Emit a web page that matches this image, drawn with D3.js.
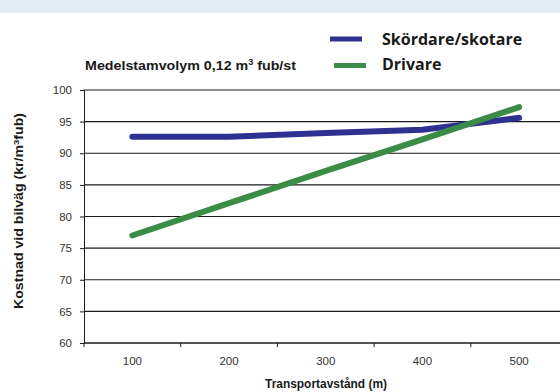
<!DOCTYPE html>
<html>
<head>
<meta charset="utf-8">
<script src="https://cdn.jsdelivr.net/npm/d3@7"></script>
<style>
  html, body { margin: 0; padding: 0; background: #fff; }
  svg { display: block; }
</style>
</head>
<body>
<svg id="chart" width="560" height="392"></svg>
<script>
// Transport distance categories (m)
const distances = ["100", "200", "300", "400", "500"];
// Cost at roadside (kr/m³fub) for each method
const skordareSkotare = [92.6, 92.6, 93.2, 93.7, 95.6];
const drivare = [77.0, 82.1, 87.2, 92.2, 97.3];
const yTicks = [60, 65, 70, 75, 80, 85, 90, 95, 100];
const seriesNames = ["Skördare/skotare", "Drivare"];
const seriesColors = ["#2e3192", "#3a8c47"];

const svg = d3.select("#chart");

// header band
svg.append("rect").attr("x", 0).attr("y", 0).attr("width", 560).attr("height", 13)
  .attr("fill", "#e3ebf3");

const plotLeft = 84, plotRight = 567.5, plotTop = 90, plotBottom = 343;

const x = d3.scaleBand().domain(distances).range([plotLeft, plotRight]).padding(0);
const y = d3.scaleLinear().domain([60, 100]).range([plotBottom, plotTop]);

// horizontal gridlines
svg.append("g").selectAll("line").data(yTicks).join("line")
  .attr("x1", plotLeft).attr("x2", 560)
  .attr("y1", d => y(d)).attr("y2", d => y(d))
  .attr("stroke", "#1a1a1a").attr("stroke-width", 1.1);

// y axis
const yAxis = svg.append("g").attr("transform", `translate(${plotLeft},0)`)
  .call(d3.axisLeft(y).tickValues(yTicks).tickSize(4).tickPadding(8));
yAxis.select(".domain").attr("stroke", "#1a1a1a");
yAxis.selectAll(".tick line").attr("stroke", "#1a1a1a");
yAxis.selectAll("text").attr("font-family", "Liberation Sans, Arial, sans-serif")
  .attr("font-size", 11.5).attr("fill", "#333");

// x axis: labels centred in bands, ticks at band boundaries
const xAxis = svg.append("g").attr("transform", `translate(0,${plotBottom})`)
  .call(d3.axisBottom(x).tickSize(0).tickPadding(14));
xAxis.select(".domain").remove();
xAxis.selectAll("text").attr("font-family", "Liberation Sans, Arial, sans-serif")
  .attr("font-size", 11.5).attr("fill", "#333");
svg.append("line").attr("x1", plotLeft).attr("x2", 560).attr("y1", plotBottom).attr("y2", plotBottom)
  .attr("stroke", "#1a1a1a").attr("stroke-width", 1.1);
const bounds = distances.map(d => x(d)).concat([x(distances[distances.length - 1]) + x.bandwidth()]);
svg.append("g").selectAll("line").data(bounds).join("line")
  .attr("x1", d => d).attr("x2", d => d).attr("y1", plotBottom).attr("y2", plotBottom + 4)
  .attr("stroke", "#1a1a1a");

// series lines
const line = d3.line().x((d, i) => x(distances[i]) + x.bandwidth() / 2).y(d => y(d));
[skordareSkotare, drivare].forEach((vals, i) => {
  svg.append("path").datum(vals).attr("d", line)
    .attr("fill", "none").attr("stroke", seriesColors[i])
    .attr("stroke-width", 6).attr("stroke-linecap", "round").attr("stroke-linejoin", "round");
});

// subtitle
svg.append("text").attr("x", 85).attr("y", 70)
  .attr("font-family", "Liberation Sans, Arial, sans-serif").attr("font-weight", "bold")
  .attr("font-size", 13.5).attr("fill", "#1a1a1a")
  .attr("textLength", 211).attr("lengthAdjust", "spacingAndGlyphs")
  .html('Medelstamvolym 0,12 m<tspan dy="-5" font-size="8.5">3</tspan><tspan dy="5"> fub/st</tspan>');

// legend
const legendY = [39, 65.5];
const legendX = [330, 334];
const legendBase = [45, 70];
seriesNames.forEach((name, i) => {
  svg.append("line").attr("x1", legendX[i]).attr("x2", legendX[i] + 32)
    .attr("y1", legendY[i]).attr("y2", legendY[i])
    .attr("stroke", seriesColors[i]).attr("stroke-width", 5);
  svg.append("text").attr("x", 382).attr("y", legendBase[i])
    .attr("font-family", "Open Sans, sans-serif").attr("font-weight", "bold")
    .attr("font-size", 16).attr("fill", "#1a1a1a").text(name);
});

// axis titles
svg.append("text").attr("x", 326).attr("y", 388).attr("text-anchor", "middle")
  .attr("font-family", "Liberation Sans, Arial, sans-serif").attr("font-weight", "bold")
  .attr("font-size", 12).attr("fill", "#1a1a1a")
  .attr("textLength", 122).attr("lengthAdjust", "spacingAndGlyphs")
  .text("Transportavstånd (m)");
svg.append("text").attr("transform", "translate(23,211) rotate(-90)").attr("text-anchor", "middle")
  .attr("font-family", "Liberation Sans, Arial, sans-serif").attr("font-weight", "bold")
  .attr("font-size", 12).attr("fill", "#1a1a1a")
  .attr("textLength", 196).attr("lengthAdjust", "spacingAndGlyphs")
  .html('Kostnad vid bilväg (kr/m<tspan dy="-4" font-size="8">3</tspan><tspan dy="4">fub)</tspan>');
</script>
</body>
</html>
